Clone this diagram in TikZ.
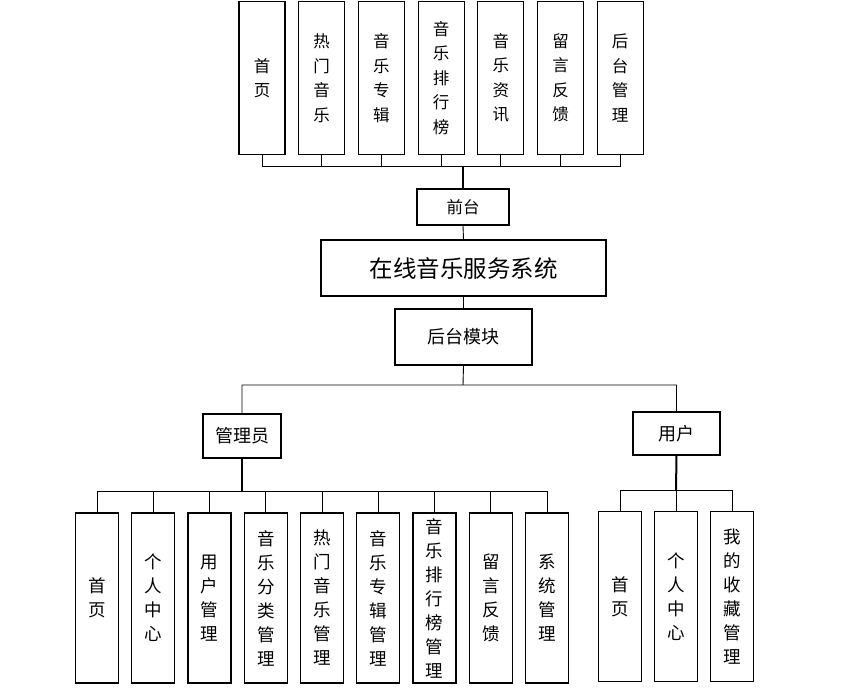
\documentclass[tikz,border=0pt]{standalone}
\usepackage{fontspec}
\newfontfamily\cjk{Noto Sans CJK SC}
\usetikzlibrary{positioning}

\begin{document}
\begin{tikzpicture}[
        x=1pt,y=-1pt,node distance=59.7pt,on grid,
        box/.style={draw,line width=1.2pt,inner sep=0pt},
        toptab/.style={box,minimum width=46pt,minimum height=153pt,align=center,
          font=\cjk\fontsize{16.5}{24.5}\selectfont},
        subtab/.style={box,minimum width=43pt,minimum height=170pt,align=center,
          font=\cjk\fontsize{17.5}{24}\selectfont},
        modbox/.style={box,font=\cjk\fontsize{18}{22}\selectfont},
        link/.style={line width=0.9pt},
        stem/.style={line width=2pt}
        ]
        \useasboundingbox (0,0) rectangle (846,698);

        % front end pages
        \node[toptab] (f_1) at (262,78)        {首\\页};
        \node[toptab] (f_2) [right=of f_1]     {热\\门\\音\\乐};
        \node[toptab] (f_3) [right=of f_2]     {音\\乐\\专\\辑};
        \node[toptab] (f_4) [right=of f_3]     {音\\乐\\排\\行\\榜};
        \node[toptab] (f_5) [right=of f_4]     {音\\乐\\资\\讯};
        \node[toptab] (f_6) [right=of f_5]     {留\\言\\反\\馈};
        \node[toptab] (f_7) [right=of f_6]     {后\\台\\管\\理};

        \node[modbox,minimum width=92pt,minimum height=36pt,font=\cjk\fontsize{16.5}{20}\selectfont]
                                                              (front) at (463,207)   {前台};
        \node[box,minimum width=285pt,minimum height=56pt,font=\cjk\fontsize{23.5}{28}\selectfont]
                                                              (sys)   at (463.5,268) {在线音乐服务系统};
        \node[modbox,minimum width=137pt,minimum height=56pt] (back)  at (463.5,337) {后台模块};
        \node[modbox,minimum width=78pt,minimum height=44pt]  (admin) at (242,436)   {管理员};
        \node[modbox,minimum width=87pt,minimum height=43pt]  (user)  at (676.5,433.5) {用户};

        % admin pages
        \node[subtab] (a_1) at (97,598)                {首\\页};
        \node[subtab] (a_2) [right=56.25pt of a_1]     {个\\人\\中\\心};
        \node[subtab] (a_3) [right=56.25pt of a_2]     {用\\户\\管\\理};
        \node[subtab] (a_4) [right=56.25pt of a_3]     {音\\乐\\分\\类\\管\\理};
        \node[subtab] (a_5) [right=56.25pt of a_4]     {热\\门\\音\\乐\\管\\理};
        \node[subtab] (a_6) [right=56.25pt of a_5]     {音\\乐\\专\\辑\\管\\理};
        \node[subtab] (a_7) [right=56.25pt of a_6]     {音\\乐\\排\\行\\榜\\管\\理};
        \node[subtab] (a_8) [right=56.25pt of a_7]     {留\\言\\反\\馈};
        \node[subtab] (a_9) [right=56.25pt of a_8]     {系\\统\\管\\理};

        % user pages
        \node[subtab] (u_1) at (620,596.5)             {首\\页};
        \node[subtab] (u_2) [right=56pt of u_1]        {个\\人\\中\\心};
        \node[subtab] (u_3) [right=56pt of u_2]        {我\\的\\收\\藏\\管\\理};

        \coordinate (fbus) at (463,166);
        \coordinate (bbus) at (463,385);
        \coordinate (abus) at (242,491);
        \coordinate (ubus) at (676,490);

        \draw[link] (f_1.south) |- (f_7.south |- fbus) -- (f_7.south)
          (f_2.south) -- (f_2.south |- fbus)
          (f_3.south) -- (f_3.south |- fbus)
          (f_4.south) -- (f_4.south |- fbus)
          (f_5.south) -- (f_5.south |- fbus)
          (f_6.south) -- (f_6.south |- fbus);
        \draw[stem] (fbus) -- (front.north);
        \draw[link] (front.south) -- (sys.north)
          (sys.south) -- (back.north)
          (back.south) -- (bbus)
          (admin.north) |- (user.north |- bbus) -- (user.north);

        \draw[stem] (admin.south) -- (abus);
        \draw[link] (a_1.north) |- (a_9.north |- abus) -- (a_9.north)
          (a_2.north) -- (a_2.north |- abus)
          (a_3.north) -- (a_3.north |- abus)
          (a_4.north) -- (a_4.north |- abus)
          (a_5.north) -- (a_5.north |- abus)
          (a_6.north) -- (a_6.north |- abus)
          (a_7.north) -- (a_7.north |- abus)
          (a_8.north) -- (a_8.north |- abus);

        \draw[stem] (user.south) -- (ubus);
        \draw[link] (u_1.north) |- (u_3.north |- ubus) -- (u_3.north)
          (u_2.north) -- (u_2.north |- ubus);
      \end{tikzpicture}
\end{document}
